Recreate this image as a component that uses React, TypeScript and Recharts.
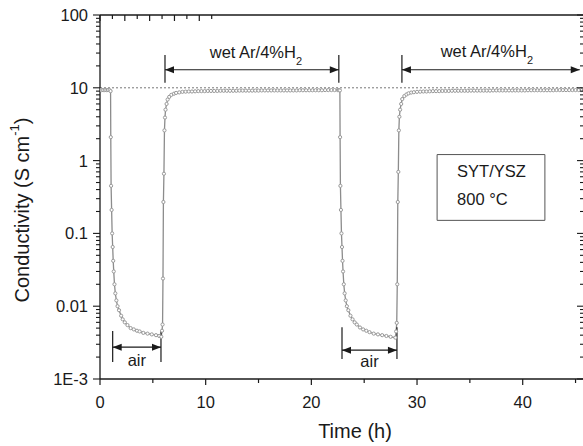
import React from "react";
import {
  LineChart,
  Line,
  XAxis,
  YAxis,
  ReferenceLine,
  ReferenceArea,
  Label,
} from "recharts";

const FONT = "'Liberation Sans', Arial, Helvetica, sans-serif";
const INK = "#1a1a1a";

// [time (h), conductivity (S/cm)], phase by phase
const wetStart = [
  [0.0, 9.3], [0.15, 9.3], [0.3, 9.3], [0.45, 9.3], [0.6, 9.3], [0.75, 9.3], [0.9, 9.3],
];
const airDrop1 = [
  [1.0, 9.0], [1.02, 2.1], [1.05, 0.45], [1.1, 0.21], [1.15, 0.1], [1.2, 0.065],
  [1.25, 0.042], [1.3, 0.03], [1.37, 0.02], [1.45, 0.015], [1.55, 0.012], [1.66, 0.01],
  [1.8, 0.0088], [2.0, 0.0074], [2.15, 0.0066], [2.35, 0.006], [2.6, 0.0055],
  [2.9, 0.005], [3.2, 0.0048], [3.5, 0.0046], [3.75, 0.0045], [4.1, 0.0043],
  [4.5, 0.0042], [4.9, 0.0041], [5.3, 0.004], [5.6, 0.0039], [5.8, 0.0038],
];
const wetRise1 = [
  [5.87, 0.0046], [5.92, 0.0056], [5.96, 0.024], [6.0, 0.27], [6.05, 0.66], [6.1, 2.6],
  [6.15, 3.9], [6.2, 5.0], [6.3, 6.0], [6.4, 6.9], [6.55, 7.5], [6.75, 8.0], [7.0, 8.3],
  [7.2, 8.5], [7.5, 8.65],
];
const wetPlateau1 = [
  [7.8, 8.8], [8.1, 8.85], [8.4, 8.9], [8.7, 8.9], [9.0, 8.95], [9.3, 9.0], [9.6, 9.0],
  [9.9, 9.0], [10.2, 9.05], [10.5, 9.05], [10.8, 9.05], [11.1, 9.05], [11.4, 9.1],
  [11.7, 9.1], [12.0, 9.1], [12.3, 9.1], [12.6, 9.1], [12.9, 9.1], [13.2, 9.15],
  [13.5, 9.15], [13.8, 9.15], [14.1, 9.15], [14.4, 9.15], [14.7, 9.15], [15.0, 9.15],
  [15.3, 9.2], [15.6, 9.2], [15.9, 9.2], [16.2, 9.2], [16.5, 9.2], [16.8, 9.2],
  [17.1, 9.2], [17.4, 9.2], [17.7, 9.2], [18.0, 9.2], [18.3, 9.2], [18.6, 9.2],
  [18.9, 9.25], [19.2, 9.25], [19.5, 9.25], [19.8, 9.25], [20.1, 9.25], [20.4, 9.25],
  [20.7, 9.25], [21.0, 9.25], [21.3, 9.3], [21.6, 9.3], [21.9, 9.3], [22.2, 9.3],
  [22.5, 9.3], [22.6, 9.3],
];
const airDrop2 = [
  [22.7, 9.2], [22.72, 2.1], [22.75, 0.45], [22.8, 0.21], [22.85, 0.1], [22.9, 0.065],
  [22.95, 0.042], [23.0, 0.03], [23.07, 0.02], [23.15, 0.015], [23.25, 0.012],
  [23.36, 0.01], [23.5, 0.0088], [23.7, 0.0074], [23.9, 0.0066], [24.1, 0.006],
  [24.3, 0.0056], [24.6, 0.0051], [24.9, 0.0048], [25.2, 0.0046], [25.5, 0.0044],
  [25.9, 0.0042], [26.3, 0.0041], [26.7, 0.004], [27.1, 0.0039], [27.5, 0.0038],
  [27.95, 0.0037],
];
const wetRise2 = [
  [28.02, 0.0045], [28.08, 0.0059], [28.13, 0.02], [28.18, 0.27], [28.23, 0.7],
  [28.28, 2.6], [28.33, 4.0], [28.4, 5.0], [28.5, 6.0], [28.6, 7.0], [28.8, 7.7],
  [29.0, 8.1], [29.2, 8.4], [29.45, 8.6],
];
const wetPlateau2 = [
  [29.7, 8.7], [30.0, 8.8], [30.3, 8.85], [30.6, 8.9], [30.9, 8.9], [31.2, 8.95],
  [31.5, 9.0], [31.8, 9.0], [32.1, 9.0], [32.4, 9.05], [32.7, 9.05], [33.0, 9.05],
  [33.3, 9.1], [33.6, 9.1], [33.9, 9.1], [34.2, 9.1], [34.5, 9.1], [34.8, 9.1],
  [35.1, 9.15], [35.4, 9.15], [35.7, 9.15], [36.0, 9.15], [36.3, 9.15], [36.6, 9.15],
  [36.9, 9.15], [37.2, 9.2], [37.5, 9.2], [37.8, 9.2], [38.1, 9.2], [38.4, 9.2],
  [38.7, 9.2], [39.0, 9.2], [39.3, 9.2], [39.6, 9.2], [39.9, 9.2], [40.2, 9.2],
  [40.5, 9.25], [40.8, 9.25], [41.1, 9.25], [41.4, 9.25], [41.7, 9.25], [42.0, 9.25],
  [42.3, 9.25], [42.6, 9.25], [42.9, 9.25], [43.2, 9.3], [43.5, 9.3], [43.8, 9.3],
  [44.1, 9.3], [44.4, 9.3], [44.7, 9.3], [45.0, 9.3], [45.3, 9.3], [45.6, 9.3],
  [45.8, 9.3],
];
const data = [
  ...wetStart,
  ...airDrop1,
  ...wetRise1,
  ...wetPlateau1,
  ...airDrop2,
  ...wetRise2,
  ...wetPlateau2,
].map(([t, s]) => ({ t, s }));

const xDomain = [0, 45.8];
const xTicks = [0, 5, 10, 15, 20, 25, 30, 35, 40, 45];
const xLabels = [0, 10, 20, 30, 40];

const yDomain = [0.001, 100];
const yMajor = [0.001, 0.01, 0.1, 1, 10, 100];
const yMajorLabels = ["1E-3", "0.01", "0.1", "1", "10", "100"];
const yMinorSteps = [2, 3, 4, 5, 6, 7, 8, 9];
const yTicks = [
  ...yMajor,
  ...yMajor.slice(0, -1).flatMap((d) => yMinorSteps.map((m) => d * m)),
];

const BottomTick = (p: any) => {
  const { x, y, payload } = p;
  const major = xLabels.includes(payload.value);
  return (
    <g>
      <line x1={x} x2={x} y1={y} y2={y + (major ? 6 : 4)} stroke={INK} strokeWidth={1.2} />
      {major && (
        <text x={x} y={y + 29} textAnchor="middle" fontSize={16.5} fontFamily={FONT} fill={INK}>
          {payload.value}
        </text>
      )}
    </g>
  );
};

const TopTick = (p: any) => {
  const { x, y, payload } = p;
  const major = xLabels.includes(payload.value);
  return <line x1={x} x2={x} y1={y} y2={y + (major ? 6 : 4)} stroke={INK} strokeWidth={1.2} />;
};

const LeftTick = (p: any) => {
  const { x, y, payload } = p;
  const idx = yMajor.indexOf(payload.value);
  const major = idx >= 0;
  return (
    <g>
      <line x1={x - (major ? 7 : 4)} x2={x} y1={y} y2={y} stroke={INK} strokeWidth={1.1} />
      {major && (
        <text x={x - 12} y={y + 6} textAnchor="end" fontSize={16.5} fontFamily={FONT} fill={INK}>
          {yMajorLabels[idx]}
        </text>
      )}
    </g>
  );
};

const RightTick = (p: any) => {
  const { x, y, payload } = p;
  const major = yMajor.includes(payload.value);
  return <line x1={x - (major ? 7 : 4)} x2={x} y1={y} y2={y} stroke={INK} strokeWidth={1.1} />;
};

// double arrow with optional caption
const arrow =
  (caption: string, sub: string, dx: number, dy: number) =>
  (p: any) => {
    const { x1, y1, x2 } = p;
    const a = Math.min(x1, x2);
    const b = Math.max(x1, x2);
    const y = y1;
    return (
      <g>
        <line x1={a} x2={b} y1={y} y2={y} stroke={INK} strokeWidth={1.2} />
        <polygon points={`${a},${y} ${a + 9},${y - 3.5} ${a + 9},${y + 3.5}`} fill={INK} />
        <polygon points={`${b},${y} ${b - 9},${y - 3.5} ${b - 9},${y + 3.5}`} fill={INK} />
        <text
          x={(a + b) / 2 + dx}
          y={y + dy}
          textAnchor="middle"
          fontSize={16.5}
          fontFamily={FONT}
          fill={INK}
        >
          {caption}
          {sub && (
            <tspan fontSize={11} dy={7}>
              {sub}
            </tspan>
          )}
        </text>
      </g>
    );
  };

const bar = (p: any) => (
  <line x1={p.x1} x2={p.x2} y1={p.y1} y2={p.y2} stroke={INK} strokeWidth={1.2} />
);

const BoxText = (p: any) => {
  const vb = p.viewBox;
  return (
    <g fontFamily={FONT} fontSize={16.5} fill={INK}>
      <text x={vb.x + 20} y={vb.y + 22}>SYT/YSZ</text>
      <text x={vb.x + 20} y={vb.y + 50}>800 °C</text>
    </g>
  );
};

export default function App() {
  return (
    <div
      style={{
        position: "absolute",
        left: 0,
        top: 0,
        width: 583,
        height: 446,
        overflow: "hidden",
        background: "#fff",
      }}
    >
      <LineChart
        width={600}
        height={446}
        data={data}
        margin={{ top: 15, right: 16, left: 0, bottom: 0 }}
      >
        <XAxis
          xAxisId="b"
          dataKey="t"
          type="number"
          domain={xDomain}
          allowDataOverflow
          ticks={xTicks}
          interval={0}
          height={67}
          tickSize={0}
          tickMargin={0}
          tickLine={false}
          tick={BottomTick}
          axisLine={{ stroke: INK, strokeWidth: 1.3 }}
        >
          <Label
            content={(p: any) => {
              const vb = p.viewBox;
              return (
                <text
                  x={vb.x + vb.width / 2 + 13}
                  y={vb.y + 59}
                  textAnchor="middle"
                  fontSize={20}
                  fontFamily={FONT}
                  fill={INK}
                >
                  Time (h)
                </text>
              );
            }}
          />
        </XAxis>
        <XAxis
          xAxisId="t"
          orientation="top"
          mirror
          type="number"
          domain={xDomain}
          allowDataOverflow
          ticks={xTicks}
          interval={0}
          tickSize={0}
          tickMargin={0}
          tickLine={false}
          tick={TopTick}
          axisLine={{ stroke: INK, strokeWidth: 1.3 }}
        />
        <YAxis
          yAxisId="l"
          type="number"
          scale="log"
          domain={yDomain}
          allowDataOverflow
          ticks={yTicks}
          interval={0}
          width={100}
          tickSize={0}
          tickMargin={0}
          tickLine={false}
          tick={LeftTick}
          axisLine={{ stroke: INK, strokeWidth: 1.3 }}
        >
          <Label
            content={(p: any) => {
              const vb = p.viewBox;
              const cx = vb.x + 22;
              const cy = vb.y + vb.height / 2 + 13;
              return (
                <text
                  x={cx}
                  y={cy}
                  transform={`rotate(-90, ${cx}, ${cy})`}
                  textAnchor="middle"
                  dominantBaseline="central"
                  fontSize={20}
                  fontFamily={FONT}
                  fill={INK}
                >
                  Conductivity (S cm
                  <tspan fontSize={13} dy={-8}>
                    -1
                  </tspan>
                  <tspan dy={8}>)</tspan>
                </text>
              );
            }}
          />
        </YAxis>
        <YAxis
          yAxisId="r"
          orientation="right"
          mirror
          type="number"
          scale="log"
          domain={yDomain}
          allowDataOverflow
          ticks={yTicks}
          interval={0}
          width={40}
          tickSize={0}
          tickMargin={0}
          tickLine={false}
          tick={RightTick}
          axisLine={{ stroke: INK, strokeWidth: 1.3 }}
        />

        <ReferenceLine
          xAxisId="b"
          yAxisId="l"
          y={10}
          stroke="#777"
          strokeWidth={1}
          strokeDasharray="2 2"
        />

        <Line
          xAxisId="b"
          yAxisId="l"
          dataKey="s"
          type="linear"
          stroke="#8c8c8c"
          strokeWidth={1.3}
          dot={{ r: 1.6, fill: "#fff", stroke: "#999", strokeWidth: 1 }}
          isAnimationActive={false}
        />

        {/* wet Ar/4%H2 periods */}
        <ReferenceLine xAxisId="b" yAxisId="l" segment={[{ x: 6.15, y: 11.7 }, { x: 6.15, y: 28.3 }]} shape={bar} />
        <ReferenceLine xAxisId="b" yAxisId="l" segment={[{ x: 22.6, y: 11.7 }, { x: 22.6, y: 28.3 }]} shape={bar} />
        <ReferenceLine
          xAxisId="b"
          yAxisId="l"
          segment={[{ x: 6.15, y: 17.7 }, { x: 22.6, y: 17.7 }]}
          shape={arrow("wet Ar/4%H", "2", 4, -12)}
        />
        <ReferenceLine xAxisId="b" yAxisId="l" segment={[{ x: 28.57, y: 11.7 }, { x: 28.57, y: 28.3 }]} shape={bar} />
        <ReferenceLine
          xAxisId="b"
          yAxisId="l"
          segment={[{ x: 28.57, y: 17.7 }, { x: 45.4, y: 17.7 }]}
          shape={arrow("wet Ar/4%H", "2", -4, -13)}
        />

        {/* air periods */}
        <ReferenceLine xAxisId="b" yAxisId="l" segment={[{ x: 1.2, y: 0.00171 }, { x: 1.2, y: 0.00455 }]} shape={bar} />
        <ReferenceLine xAxisId="b" yAxisId="l" segment={[{ x: 5.77, y: 0.00171 }, { x: 5.77, y: 0.00455 }]} shape={bar} />
        <ReferenceLine
          xAxisId="b"
          yAxisId="l"
          segment={[{ x: 1.2, y: 0.00274 }, { x: 5.77, y: 0.00274 }]}
          shape={arrow("air", "", 0, 19)}
        />
        <ReferenceLine xAxisId="b" yAxisId="l" segment={[{ x: 22.9, y: 0.00188 }, { x: 22.9, y: 0.00515 }]} shape={bar} />
        <ReferenceLine xAxisId="b" yAxisId="l" segment={[{ x: 28.1, y: 0.00188 }, { x: 28.1, y: 0.00515 }]} shape={bar} />
        <ReferenceLine
          xAxisId="b"
          yAxisId="l"
          segment={[{ x: 22.9, y: 0.00249 }, { x: 28.1, y: 0.00249 }]}
          shape={arrow("air", "", 0, 17)}
        />

        <ReferenceArea
          xAxisId="b"
          yAxisId="l"
          x1={31.9}
          x2={42.1}
          y1={0.151}
          y2={1.21}
          fill="#fff"
          fillOpacity={1}
          stroke="#555"
          strokeWidth={1}
          label={BoxText}
        />
      </LineChart>
    </div>
  );
}
